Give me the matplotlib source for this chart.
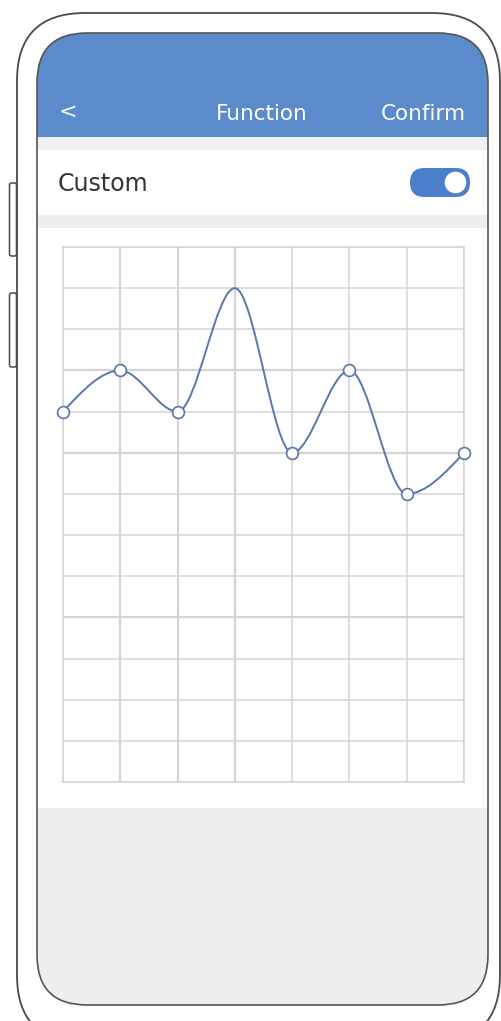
import numpy as np
import matplotlib
matplotlib.use("Agg")
import matplotlib.pyplot as plt
from matplotlib.patches import FancyBboxPatch, Rectangle, Circle
from matplotlib.path import Path
from matplotlib.patches import PathPatch

# chart values (grid units, 0 = bottom row)
point_x = [0, 1, 2, 3, 4, 5, 6, 7]
point_y = [9, 10, 9, 12, 8, 10, 7, 8]
show_marker = [True, True, True, False, True, True, True, True]
n_cols = 7
n_rows = 13

title_text = "Function"
back_text = "<"
confirm_text = "Confirm"
row_label = "Custom"

blue = "#5b8bcb"
line_blue = "#5877ab"
grid_col = "#d4d4d4"

fig = plt.figure(figsize=(5.02, 10.21), dpi=100)
bg = fig.add_axes([0, 0, 1, 1])
bg.set_xlim(0, 502)
bg.set_ylim(1021, 0)
bg.axis("off")

# phone body
body = FancyBboxPatch((17, 13), 483, 1030, boxstyle="round,pad=0,rounding_size=68",
                      fc="white", ec="#4a4a4a", lw=1.3)
bg.add_patch(body)
# side buttons
for y0, y1 in [(183, 256), (293, 367)]:
    bg.add_patch(FancyBboxPatch((9.5, y0), 7, y1 - y0, boxstyle="round,pad=0,rounding_size=2",
                                fc="white", ec="#4a4a4a", lw=1.1))

# screen
screen = FancyBboxPatch((37, 33), 451, 972, boxstyle="round,pad=0,rounding_size=50",
                        fc="white", ec="none")
bg.add_patch(screen)
areas = [
    (33, 137, blue),
    (137, 150, "#eef0f2"),
    (215, 228, "#eeeeee"),
    (808, 1010, "#eeeeee"),
]
for y0, y1, c in areas:
    r = Rectangle((30, y0), 470, y1 - y0, fc=c, ec="none")
    bg.add_patch(r)
    r.set_clip_path(screen)
bg.add_patch(FancyBboxPatch((37, 33), 451, 972, boxstyle="round,pad=0,rounding_size=50",
                            fc="none", ec="#555555", lw=1.2))

# header texts
bg.text(68, 112, back_text, color="white", fontsize=16, ha="center", va="center")
bg.text(262, 114, title_text, color="white", fontsize=15.5, ha="center", va="center")
bg.text(423, 114, confirm_text, color="white", fontsize=15.5, ha="center", va="center")
bg.text(58, 184, row_label, color="#333333", fontsize=17, ha="left", va="center")

# toggle
bg.add_patch(FancyBboxPatch((410, 168), 60, 29, boxstyle="round,pad=0,rounding_size=14.5",
                            fc="#4a7fcb", ec="none"))
bg.add_patch(Circle((455.5, 182.5), 11.5, fc="white", ec="#4a7fcb", lw=1))

# chart
left, right, top, bottom = 63, 464, 247, 782
ax = fig.add_axes([left / 502, 1 - bottom / 1021, (right - left) / 502, (bottom - top) / 1021])
ax.set_xlim(0, n_cols)
ax.set_ylim(0, n_rows)
ax.set_facecolor("none")
ax.set_xticks(range(n_cols + 1))
ax.set_yticks(range(n_rows + 1))
ax.tick_params(length=0, labelbottom=False, labelleft=False)
ax.grid(True, color=grid_col, lw=1.1)
for s in ax.spines.values():
    s.set_color(grid_col)
    s.set_linewidth(1.1)
for v in [10, 8, 4]:
    ax.axhline(v, color=grid_col, lw=1.6)
for v in [1, 2, 3]:
    ax.axvline(v, color=grid_col, lw=1.6)

# monotone cubic curve (same idea as d3 monotoneX), drawn as bezier path
xs = np.array(point_x, float)
ys = np.array(point_y, float)
h = np.diff(xs)
s = np.diff(ys) / h
m = np.zeros(len(xs))
for i in range(1, len(xs) - 1):
    p = (s[i - 1] * h[i] + s[i] * h[i - 1]) / (h[i - 1] + h[i])
    m[i] = (np.sign(s[i - 1]) + np.sign(s[i])) * min(abs(s[i - 1]), abs(s[i]), 0.5 * abs(p))
m[0] = (3 * s[0] - m[1]) / 2
m[-1] = (3 * s[-1] - m[-2]) / 2
verts = [(xs[0], ys[0])]
codes = [Path.MOVETO]
for i in range(len(xs) - 1):
    d = h[i] / 3
    verts += [(xs[i] + d, ys[i] + m[i] * d), (xs[i + 1] - d, ys[i + 1] - m[i + 1] * d), (xs[i + 1], ys[i + 1])]
    codes += [Path.CURVE4] * 3
ax.add_patch(PathPatch(Path(verts, codes), fc="none", ec=line_blue, lw=1.4, zorder=3, clip_on=False))

mx = [x for x, k in zip(point_x, show_marker) if k]
my = [y for y, k in zip(point_y, show_marker) if k]
ax.plot(mx, my, "o", ms=8.5, mfc="white", mec=line_blue, mew=1.2, zorder=4, clip_on=False)

fig.savefig("out.png", dpi=100)
